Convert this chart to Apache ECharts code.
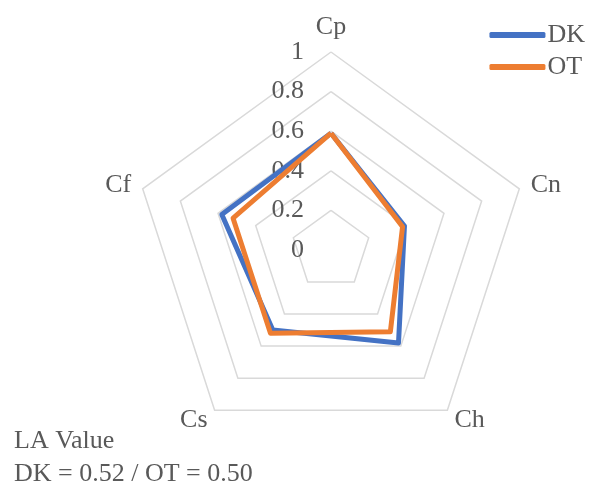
<!DOCTYPE html>
<html>
<head>
<meta charset="utf-8">
<script src="https://cdn.jsdelivr.net/npm/echarts@6/dist/echarts.min.js"></script>
<style>
  html, body { margin: 0; padding: 0; background: #fff; }
  #chart { width: 590px; height: 489px; }
</style>
</head>
<body>
<div id="chart"></div>
<script>
// Criteria, listed counter-clockwise from the top (ECharts radar order)
const criteria = ['Cp', 'Cf', 'Cs', 'Ch', 'Cn'];
const seriesNames = ['DK', 'OT'];
const dkValues = [0.59, 0.58, 0.50, 0.58, 0.39];
const otValues = [0.59, 0.52, 0.52, 0.51, 0.38];
const tickLabels = ['0', '0.2', '0.4', '0.6', '0.8', '1'];
const noteLines = ['LA Value', 'DK = 0.52 / OT = 0.50'];

const FONT = '"Liberation Serif", "DejaVu Serif", serif';
const TEXT = '#595959';

const chart = echarts.init(document.getElementById('chart'));
chart.setOption({
  animation: false,
  textStyle: { fontFamily: FONT, color: TEXT },
  legend: {
    data: seriesNames,
    orient: 'vertical',
    right: 0,
    top: 17,
    itemWidth: 56,
    itemHeight: 6,
    itemGap: 6,
    icon: 'roundRect',
    textStyle: { fontFamily: FONT, fontSize: 26, color: TEXT, padding: [0, 0, 0, -3] }
  },
  graphic: [{
    type: 'text',
    left: 14,
    top: 425,
    style: {
      text: noteLines.join('\n'),
      font: '26px ' + FONT,
      fill: TEXT,
      lineHeight: 33
    }
  }],
  radar: {
    center: [331, 250],
    radius: 198,
    startAngle: 90,
    splitNumber: 5,
    shape: 'polygon',
    indicator: criteria.map((name, i) => ({
      name,
      min: 0,
      max: 1,
      axisLabel: i === 0 ? {
        show: true,
        formatter: v => tickLabels[Math.round(v * 5)] ?? '',
        fontFamily: FONT,
        fontSize: 26,
        color: TEXT,
        margin: 27
      } : { show: false }
    })),
    nameGap: 12,
    axisName: { fontFamily: FONT, fontSize: 26, color: TEXT },
    axisLine: { show: false },
    axisTick: { show: false },
    axisLabel: { show: false },
    splitLine: { lineStyle: { color: '#D9D9D9', width: 1.5 } },
    splitArea: { show: false }
  },
  series: [{
    type: 'radar',
    symbol: 'none',
    data: [
      {
        name: seriesNames[0],
        value: dkValues,
        lineStyle: { color: '#4472C4', width: 5, join: 'round' },
        itemStyle: { color: '#4472C4' }
      },
      {
        name: seriesNames[1],
        value: otValues,
        lineStyle: { color: '#ED7D31', width: 5, join: 'round' },
        itemStyle: { color: '#ED7D31' }
      }
    ]
  }]
});
</script>
</body>
</html>
